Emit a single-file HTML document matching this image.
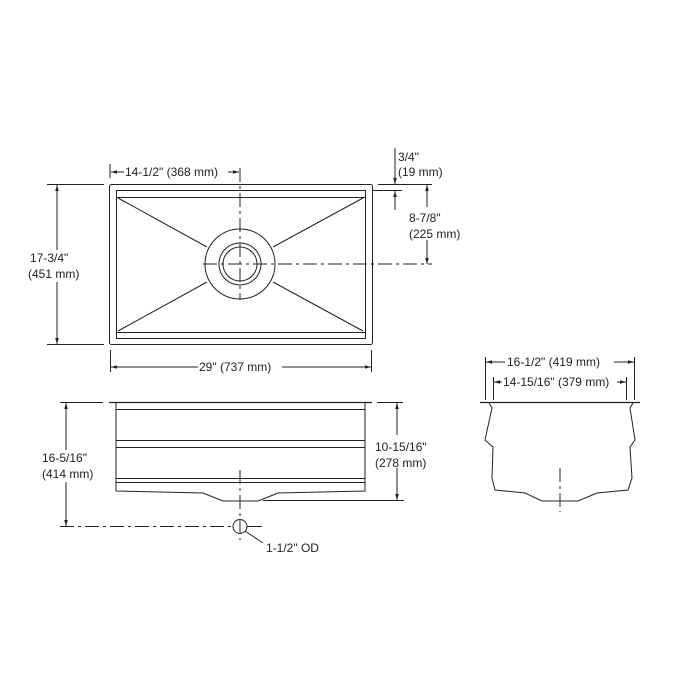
<!DOCTYPE html>
<html><head><meta charset="utf-8"><style>body{margin:0;background:#fff}svg{display:block}text{font-family:"Liberation Sans",Arial,sans-serif;font-size:12px;fill:#222}</style></head><body>
<svg width="700" height="700" viewBox="0 0 700 700" xmlns="http://www.w3.org/2000/svg">
<defs><marker id="a" viewBox="0 0 10 10" refX="10" refY="5" markerWidth="6" markerHeight="6" orient="auto-start-reverse"><path d="M0,2 L10,5 L0,8z" fill="#222"/></marker></defs>
<g stroke="#222" fill="none" stroke-width="1">
<!-- top view -->
<rect x="109.5" y="184.5" width="263" height="160" rx="2"/>
<rect x="116.5" y="190.5" width="249" height="148"/>
<line x1="116" y1="197.5" x2="365" y2="197.5"/>
<line x1="116" y1="332.5" x2="365" y2="332.5"/>
<line x1="118" y1="198" x2="207" y2="247"/>
<line x1="363" y1="198" x2="273" y2="247"/>
<line x1="118" y1="331" x2="207" y2="282"/>
<line x1="363" y1="331" x2="273" y2="282"/>
<circle cx="240" cy="264" r="35"/>
<circle cx="240" cy="264" r="21"/>
<circle cx="240" cy="264" r="17"/>
<line x1="240" y1="168" x2="240" y2="300" stroke-dasharray="14,4,3,4"/>
<line x1="203" y1="264" x2="432" y2="264" stroke-dasharray="14,4,3,4"/>
<line x1="110" y1="164" x2="110" y2="178"/>
<line x1="111" y1="172" x2="124" y2="172" marker-start="url(#a)"/>
<line x1="228" y1="172" x2="239" y2="172" marker-end="url(#a)"/>
<line x1="47" y1="184.5" x2="104" y2="184.5"/>
<line x1="47" y1="344.5" x2="104" y2="344.5"/>
<line x1="57" y1="185" x2="57" y2="250" marker-start="url(#a)"/>
<line x1="57" y1="282" x2="57" y2="344" marker-end="url(#a)"/>
<line x1="110" y1="350" x2="372" y2="350" stroke="none"/>
<line x1="110.5" y1="350" x2="110.5" y2="372"/>
<line x1="371.5" y1="350" x2="371.5" y2="372"/>
<line x1="111" y1="367" x2="198" y2="367" marker-start="url(#a)"/>
<line x1="282" y1="367" x2="371" y2="367" marker-end="url(#a)"/>
<line x1="378" y1="184.5" x2="432" y2="184.5"/>
<line x1="373" y1="190.5" x2="402" y2="190.5"/>
<line x1="395" y1="148" x2="395" y2="184" marker-end="url(#a)"/>
<line x1="395" y1="210" x2="395" y2="191" marker-end="url(#a)"/>
<line x1="427" y1="185" x2="427" y2="207" marker-start="url(#a)"/>
<line x1="427" y1="240" x2="427" y2="264" marker-end="url(#a)"/>
<!-- front view -->
<line x1="109" y1="402.5" x2="372" y2="402.5" stroke-width="1.3"/>
<path d="M116,402 V491 L203,493 L223,501 L258,501 L278,493 L365,491 V402"/>
<line x1="116" y1="409.5" x2="365" y2="409.5"/>
<line x1="116" y1="440.5" x2="365" y2="440.5"/>
<line x1="116" y1="447.5" x2="365" y2="447.5"/>
<line x1="116" y1="478.5" x2="365" y2="478.5"/>
<line x1="116" y1="482.5" x2="365" y2="482.5"/>
<line x1="60" y1="402.5" x2="103" y2="402.5"/>
<line x1="66" y1="403" x2="66" y2="450" marker-start="url(#a)"/>
<line x1="66" y1="482" x2="66" y2="526" marker-end="url(#a)"/>
<line x1="60" y1="526.5" x2="233" y2="526.5" stroke-dasharray="14,4,3,4"/>
<line x1="247" y1="526.5" x2="262" y2="526.5"/>
<circle cx="240" cy="526.5" r="7"/>
<line x1="240" y1="470" x2="240" y2="540" stroke-dasharray="14,4,3,4"/>
<line x1="245" y1="531" x2="263" y2="543"/>
<line x1="377" y1="402.5" x2="403" y2="402.5"/>
<line x1="263" y1="500.5" x2="404" y2="500.5"/>
<line x1="397" y1="403" x2="397" y2="435" marker-start="url(#a)"/>
<line x1="397" y1="468" x2="397" y2="500" marker-end="url(#a)"/>
<!-- side view -->
<line x1="480" y1="402.5" x2="640" y2="402.5" stroke-width="1.3"/>
<path d="M489,403 L492,408 L485,440 L493,447 L492,478 L495,490 L525,493 L542,501 L578,501 L597,493 L628,490 L632,478 L630,447 L635,440 L630,408 L633,403"/>
<line x1="560" y1="468" x2="560" y2="512" stroke-dasharray="14,4,3,4"/>
<line x1="485.5" y1="357" x2="485.5" y2="400"/>
<line x1="634.5" y1="357" x2="634.5" y2="400"/>
<line x1="493.5" y1="377" x2="493.5" y2="400"/>
<line x1="626.5" y1="377" x2="626.5" y2="400"/>
<line x1="486" y1="362" x2="505" y2="362" marker-start="url(#a)"/>
<line x1="614" y1="362" x2="634" y2="362" marker-end="url(#a)"/>
<line x1="494" y1="382" x2="502" y2="382" marker-start="url(#a)"/>
<line x1="617" y1="382" x2="626" y2="382" marker-end="url(#a)"/>
</g>
<text x="125" y="176">14-1/2" (368 mm)</text>
<text x="30" y="262">17-3/4"</text>
<text x="28" y="278">(451 mm)</text>
<text x="199" y="371">29" (737 mm)</text>
<text x="398" y="161">3/4"</text>
<text x="398" y="176">(19 mm)</text>
<text x="409" y="222">8-7/8"</text>
<text x="409" y="238">(225 mm)</text>
<text x="42" y="462">16-5/16"</text>
<text x="42" y="478">(414 mm)</text>
<text x="375" y="451">10-15/16"</text>
<text x="375" y="467">(278 mm)</text>
<text x="266" y="552">1-1/2" OD</text>
<text x="507" y="366">16-1/2"  (419 mm)</text>
<text x="503" y="386">14-15/16" (379 mm)</text>
</svg>
</body></html>
